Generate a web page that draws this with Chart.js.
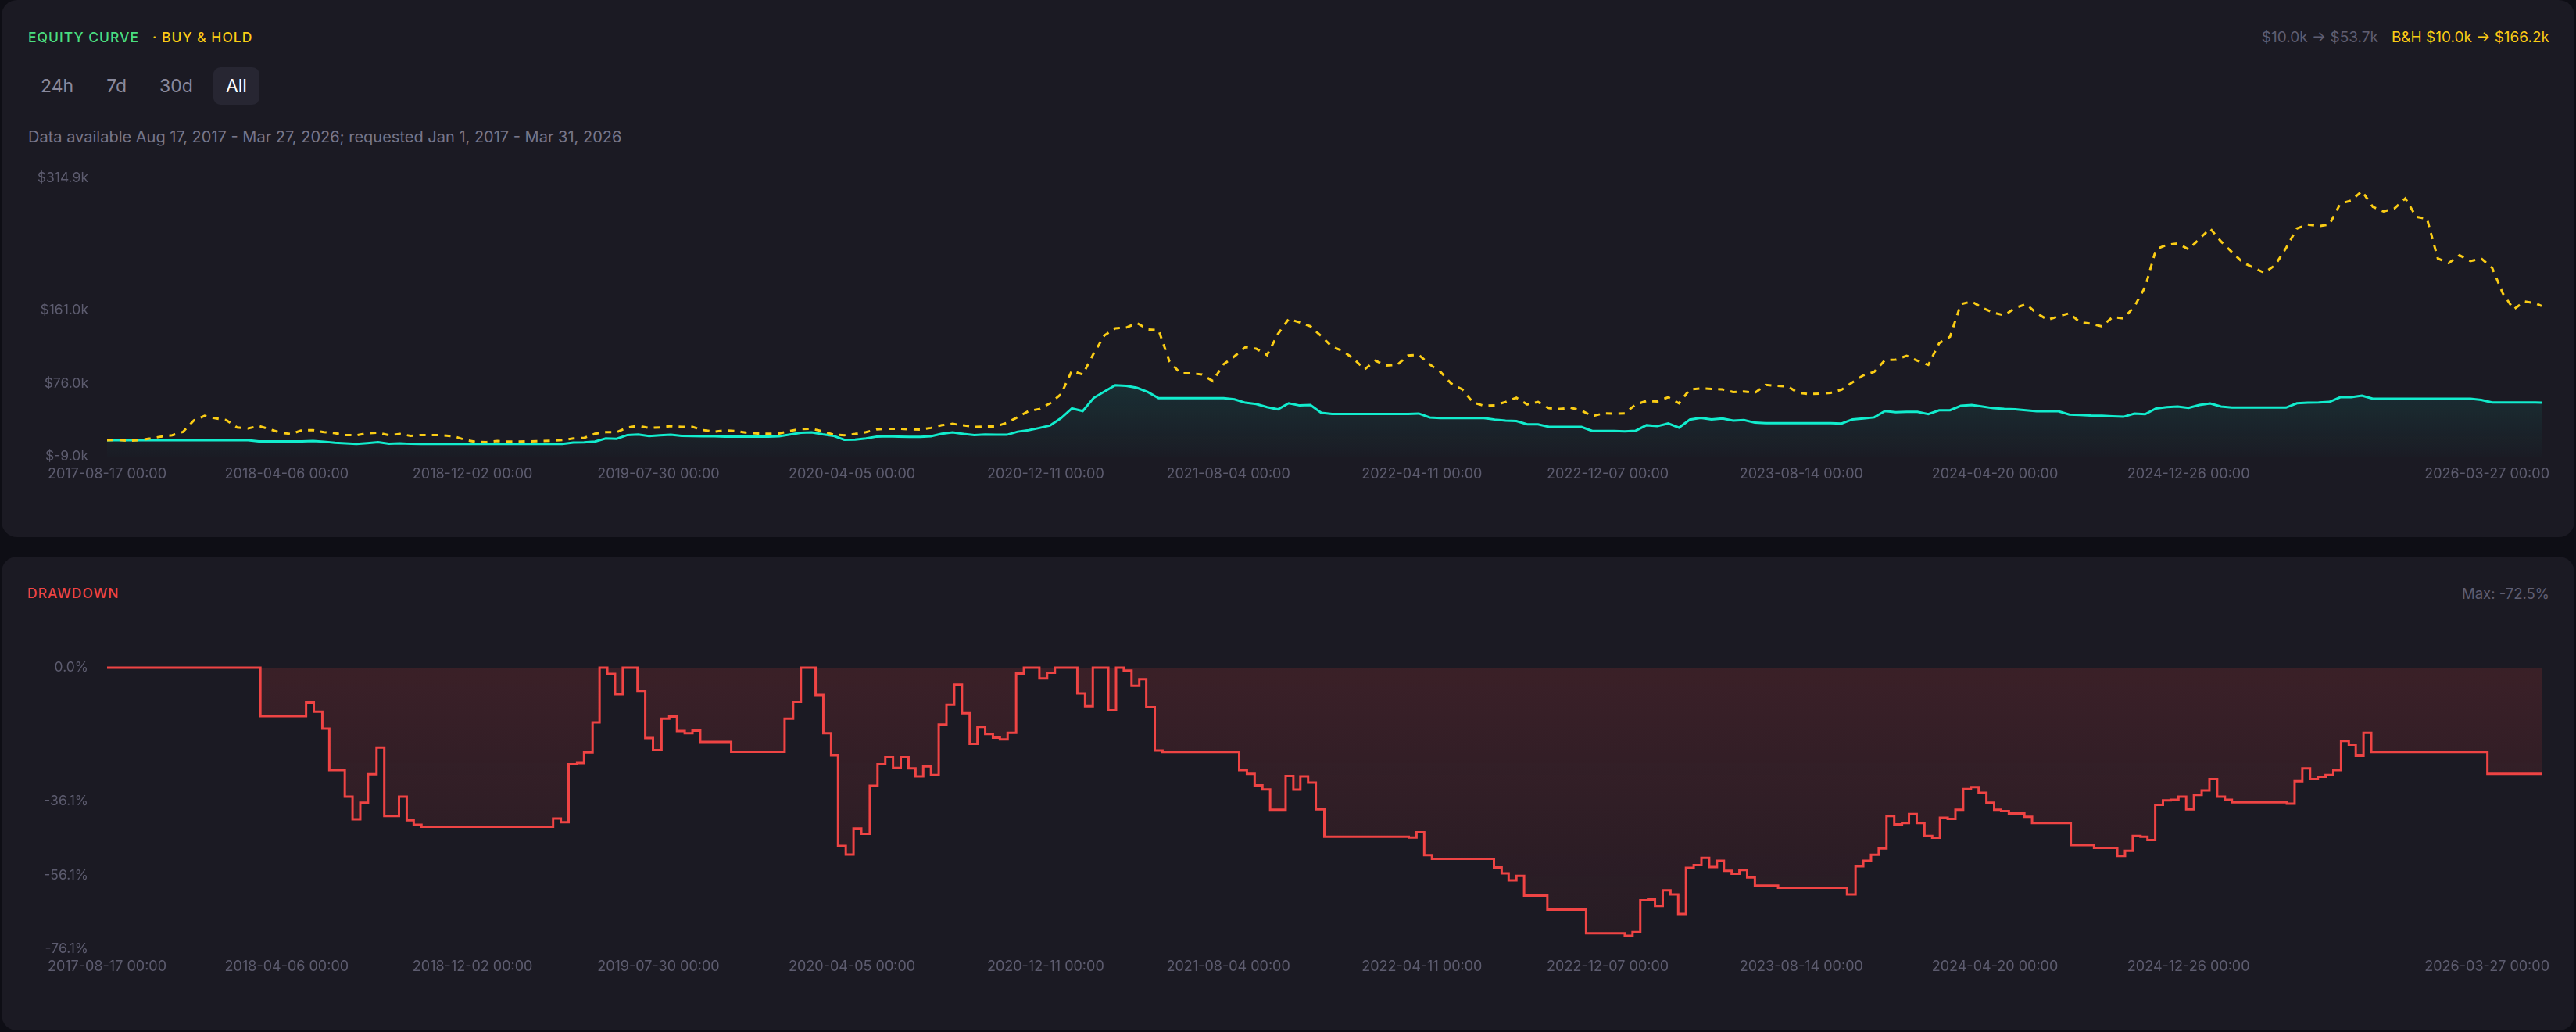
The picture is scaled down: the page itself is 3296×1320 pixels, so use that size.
<!DOCTYPE html>
<html>
<head>
<meta charset="utf-8">
<script src="https://cdn.jsdelivr.net/npm/chart.js@4.4.1/dist/chart.umd.min.js"></script>
<style>
html, body { margin: 0; padding: 0; width: 3296px; height: 1320px; overflow: hidden; background: #0e0e15; font-family: Inter, sans-serif; }
.card { position: absolute; left: 2px; width: 3292px; background: #1b1a23; border-radius: 20px; }
.lbl { position: absolute; white-space: nowrap; line-height: 24px; }
.caps { font-size: 17.5px; font-weight: 500; letter-spacing: 1px; }
.btns { position: absolute; left: 36px; top: 86px; display: flex; gap: 10px; }
.btns div { height: 48px; line-height: 48px; padding: 0 16px; font-size: 23px; color: #8a899c; border-radius: 9px; }
.btns div.on { background: #272632; color: #ffffff; }
.wrap { position: absolute; left: 0; width: 3296px; }
</style>
</head>
<body>
<div class="card" style="top:0;height:687px"></div>
<div class="card" style="top:712px;height:606px"></div>

<div class="lbl caps" style="left:36px;top:36px;color:#4ade80">EQUITY CURVE</div>
<div class="lbl caps" style="left:195px;top:36px;color:#facc15">· BUY &amp; HOLD</div>
<div class="lbl" style="right:34px;top:36px;font-size:19px">
  <span style="color:#5f5e72">$10.0k → $53.7k</span><span style="color:#facc15;margin-left:17px">B&amp;H $10.0k → $166.2k</span>
</div>
<div class="btns"><div>24h</div><div>7d</div><div>30d</div><div class="on">All</div></div>
<div class="lbl" style="left:36px;top:163px;font-size:20px;color:#77768a">Data available Aug 17, 2017 - Mar 27, 2026; requested Jan 1, 2017 - Mar 31, 2026</div>
<div class="wrap" style="top:200px;height:440px"><canvas id="equity"></canvas></div>

<div class="lbl caps" style="left:35px;top:747px;color:#ef4444">DRAWDOWN</div>
<div class="lbl" style="right:34px;top:747px;font-size:18.5px;color:#5f5e72">Max: -72.5%</div>
<div class="wrap" style="top:820px;height:460px"><canvas id="drawdown"></canvas></div>

<script>
const START = '2017-08-17';

// equity samples, values in $k
const eqDates = [
  '2017-08-17','2017-08-31','2017-09-14','2017-09-28','2017-10-12','2017-10-26','2017-11-09','2017-11-23','2017-12-07','2017-12-21',
  '2018-01-04','2018-01-18','2018-02-01','2018-02-15','2018-03-01','2018-03-15','2018-03-29','2018-04-12','2018-04-26','2018-05-10','2018-05-24','2018-06-07','2018-06-21','2018-07-05','2018-07-19','2018-08-02','2018-08-16','2018-08-30','2018-09-13','2018-09-27','2018-10-11','2018-10-25','2018-11-08','2018-11-22','2018-12-06','2018-12-20',
  '2019-01-03','2019-01-17','2019-01-31','2019-02-14','2019-02-28','2019-03-14','2019-03-28','2019-04-11','2019-04-25','2019-05-09','2019-05-23','2019-06-06','2019-06-20','2019-07-04','2019-07-18','2019-08-01','2019-08-15','2019-08-29','2019-09-12','2019-09-26','2019-10-10','2019-10-24','2019-11-07','2019-11-21','2019-12-05','2019-12-19',
  '2020-01-02','2020-01-16','2020-01-30','2020-02-13','2020-02-27','2020-03-12','2020-03-26','2020-04-09','2020-04-23','2020-05-07','2020-05-21','2020-06-04','2020-06-18','2020-07-02','2020-07-16','2020-07-30','2020-08-13','2020-08-27','2020-09-10','2020-09-24','2020-10-08','2020-10-22','2020-11-05','2020-11-19','2020-12-03','2020-12-17','2020-12-31',
  '2021-01-14','2021-01-28','2021-02-11','2021-02-25','2021-03-11','2021-03-25','2021-04-08','2021-04-22','2021-05-06','2021-05-20','2021-06-03','2021-06-17','2021-07-01','2021-07-15','2021-07-29','2021-08-12','2021-08-26','2021-09-09','2021-09-23','2021-10-07','2021-10-21','2021-11-04','2021-11-18','2021-12-02','2021-12-16','2021-12-30',
  '2022-01-13','2022-01-27','2022-02-10','2022-02-24','2022-03-10','2022-03-24','2022-04-07','2022-04-21','2022-05-05','2022-05-19','2022-06-02','2022-06-16','2022-06-30','2022-07-14','2022-07-28','2022-08-11','2022-08-25','2022-09-08','2022-09-22','2022-10-06','2022-10-20','2022-11-03','2022-11-17','2022-12-01','2022-12-15','2022-12-29',
  '2023-01-12','2023-01-26','2023-02-09','2023-02-23','2023-03-09','2023-03-23','2023-04-06','2023-04-20','2023-05-04','2023-05-18','2023-06-01','2023-06-15','2023-06-29','2023-07-13','2023-07-27','2023-08-10','2023-08-24','2023-09-07','2023-09-21','2023-10-05','2023-10-19','2023-11-02','2023-11-16','2023-11-30','2023-12-14','2023-12-28',
  '2024-01-11','2024-01-25','2024-02-08','2024-02-22','2024-03-07','2024-03-21','2024-04-04','2024-04-18','2024-05-02','2024-05-16','2024-05-30','2024-06-13','2024-06-27','2024-07-11','2024-07-25','2024-08-08','2024-08-22','2024-09-05','2024-09-19','2024-10-03','2024-10-17','2024-10-31','2024-11-14','2024-11-28','2024-12-12','2024-12-26',
  '2025-01-09','2025-01-23','2025-02-06','2025-02-20','2025-03-06','2025-03-20','2025-04-03','2025-04-17','2025-05-01','2025-05-15','2025-05-29','2025-06-12','2025-06-26','2025-07-10','2025-07-24','2025-08-07','2025-08-21','2025-09-04','2025-09-18','2025-10-02','2025-10-16','2025-10-30','2025-11-13','2025-11-27','2025-12-11','2025-12-25',
  '2026-01-08','2026-01-22','2026-02-05','2026-02-19','2026-03-05','2026-03-19','2026-03-27'
];
const buyHold = [
  10.0,10.6,9.4,10.2,12.1,14.3,15.8,19.7,33.0,38.5,
  35.5,33.4,24.9,23.7,26.7,22.8,18.8,17.3,21.8,21.8,19.4,18.2,16.1,15.8,18.2,18.8,15.8,17.3,15.2,16.1,16.1,15.8,14.6,10.6,8.2,7.9,
  9.1,8.5,8.5,8.8,9.1,9.4,10.3,12.1,12.7,17.6,19.4,19.4,24.9,26.7,24.3,24.9,26.4,25.5,25.5,21.8,20.0,21.5,20.6,18.8,17.9,17.6,
  17.9,20.9,23.0,23.4,20.3,16.7,15.8,17.3,19.4,22.7,23.4,23.4,22.7,22.4,24.3,27.6,29.1,27.3,25.5,26.1,26.1,30.3,37.0,44.0,46.4,53.1,63.7,
  91.0,86.5,110.8,132.0,140.2,141.1,146.3,139.0,138.1,101.7,88.0,88.0,86.5,78.9,98.6,107.7,118.4,116.5,109.2,133.5,151.1,147.2,142.6,131.1,118.9,113.8,
  104.7,92.5,102.6,97.1,97.7,108.6,109.3,98.3,89.5,75.9,69.2,54.0,50.1,50.7,54.6,59.5,51.6,54.6,47.3,46.4,47.9,44.6,37.9,41.3,41.0,41.3,
  51.6,55.8,55.2,60.1,53.1,69.2,70.4,69.8,69.2,66.1,66.8,65.2,74.4,73.4,72.8,65.2,63.7,64.3,65.2,68.9,77.4,85.6,89.5,103.2,103.8,108.3,
  102.6,97.7,122.9,130.5,168.4,171.5,163.9,158.4,155.4,163.9,168.4,157.8,150.2,154.2,157.8,147.2,145.7,142.6,153.3,151.7,165.4,188.2,232.2,237.3,239.1,232.2,
  244.3,256.4,241.3,229.1,217.0,210.9,204.8,214.0,233.7,256.4,261.0,259.2,261.0,285.3,288.9,300.0,281.6,276.2,279.8,291.4,270.1,267.7,221.5,216.1,225.2,218.5,
  221.5,210.9,180.6,162.4,171.5,169.4,166.2
];
const strategy = [
  10.0,10.0,10.0,10.0,10.0,10.0,10.0,10.0,10.0,10.0,
  10.0,10.0,10.0,10.0,8.7,8.7,8.7,8.7,8.7,9.1,8.4,7.2,6.5,5.9,6.8,7.8,6.0,6.5,5.9,5.7,5.7,5.7,5.7,5.7,5.7,5.7,
  5.7,5.7,5.7,5.7,5.7,5.7,5.8,7.4,7.7,8.5,12.1,11.8,16.1,16.7,14.9,15.8,16.4,15.2,14.9,14.6,14.6,14.3,14.3,14.3,14.3,14.3,
  14.6,16.7,18.8,19.1,17.0,15.2,10.6,10.9,12.1,14.3,14.6,14.3,14.0,14.0,14.6,17.6,19.1,17.3,16.1,16.7,16.4,16.4,20.0,21.8,24.3,27.3,35.8,
  47.0,44.0,59.2,66.8,74.0,73.4,71.0,66.1,58.9,58.9,58.9,58.9,58.9,58.9,58.9,57.6,53.7,52.2,48.5,46.0,53.1,50.5,51.0,42.0,40.5,40.5,
  40.5,40.5,40.5,40.5,40.5,40.5,41.1,36.5,35.8,35.8,35.8,35.8,35.8,34.1,32.9,32.4,28.5,28.5,25.6,25.6,25.6,25.6,20.9,20.9,20.9,20.4,
  21.1,27.5,26.4,29.5,24.7,34.0,36.0,34.2,35.4,32.8,33.6,30.5,30.0,30.0,30.0,30.0,30.0,30.0,30.0,29.5,34.3,35.4,36.6,44.0,42.7,43.0,
  43.0,40.4,44.9,44.9,50.1,51.0,49.2,47.3,46.4,46.1,44.9,43.7,43.7,43.7,40.0,39.5,38.8,38.5,37.9,37.3,41.0,40.4,47.0,48.5,49.2,47.6,
  51.0,52.8,49.2,48.0,48.0,48.0,48.0,48.0,48.0,53.1,53.7,54.0,54.6,60.1,60.1,62.0,58.3,58.3,58.3,58.3,58.3,58.3,58.3,58.3,58.3,58.3,
  57.0,54.0,54.0,54.0,54.0,54.0,53.7
];

// drawdown steps: day since START where a level begins, and the level in %
const ddDay = [
  0,198,257,267,278,287,307,317,327,337,348,358,377,387,396,406,576,586,596,607,616,627,636,646,656,666,685,695,705,716,726,736,746,756,766,806,875,886,896,915,925,935,944,954,964,
  974,985,995,1005,1015,1025,1035,1044,1054,1064,1074,1084,1094,1104,1114,1124,1134,1144,1153,1163,1174,1184,1204,1214,1224,1253,1263,1273,1293,1303,1313,1323,1333,1342,1353,1363,
  1462,1472,1482,1492,1502,1522,1532,1541,1551,1561,1572,1681,1691,1701,1711,1791,1801,1810,1820,1830,1860,1910,1960,1970,1980,1990,1999,2009,2019,2029,2039,2049,2059,2069,
  2079,2088,2098,2108,2118,2128,2158,2247,2258,2268,2278,2288,2298,2308,2318,2327,2337,2347,2357,2367,2377,2387,2397,2407,2417,2427,2437,2446,2456,2476,2486,2536,2566,2596,2606,
  2616,2626,2635,2645,2655,2665,2675,2685,2695,2705,2715,2725,2735,2744,2815,2825,2835,2845,2855,2865,2875,2885,2895,2904,2914,2924,3074,3144
];
const ddValue = [
  0,-13.1,-9.4,-11.9,-16.5,-27.7,-34.9,-41.0,-36.5,-28.8,-21.6,-40.1,-34.9,-41.3,-42.5,-43.0,-40.8,-41.8,-26.1,-25.8,-22.9,-14.8,0,-1.7,-7.2,0,-6.3,-19.0,-22.3,-13.8,-13.2,-17.1,-17.7,-17.0,-20.1,-22.7,-13.8,-9.2,0,-7.4,-17.7,-23.7,-48.2,-50.5,-43.5,
  -44.9,-31.9,-26.1,-24.2,-27.1,-24.2,-27.2,-29.4,-26.7,-29.0,-15.4,-10.0,-4.6,-12.3,-20.6,-16.0,-17.9,-18.9,-19.4,-17.6,-1.6,0,-2.9,-1.4,0,-7.0,-10.4,0,-11.5,0,-0.8,-4.9,-3.1,-10.7,-22.4,-22.8,
  -27.7,-28.7,-31.8,-32.9,-38.4,-29.3,-33.0,-29.4,-31.1,-38.3,-45.7,-45.9,-44.5,-50.7,-51.7,-54.0,-55.6,-57.5,-56.3,-61.6,-65.4,-71.8,-72.5,-71.5,-62.9,-62.7,-64.4,-60.2,-61.3,-66.6,-54.1,-53.4,-51.4,-53.9,
  -52.2,-54.9,-55.7,-54.7,-56.7,-58.9,-59.5,-61.3,-53.7,-52.2,-50.6,-48.9,-40.1,-42.4,-42.0,-39.6,-42.0,-45.5,-46.0,-40.6,-40.9,-38.4,-32.8,-32.3,-33.8,-36.5,-38.4,-38.8,-39.4,-40.3,-42.0,-48.0,-48.7,-50.9,-49.5,
  -45.5,-45.7,-46.6,-37.1,-35.9,-35.7,-34.9,-38.3,-34.4,-33.2,-30.1,-34.9,-35.7,-36.4,-36.8,-30.7,-27.2,-30.1,-29.5,-29.0,-27.7,-19.8,-20.8,-23.8,-17.6,-22.8,-28.7,-28.7
];

const xTickDates = ['2017-08-17','2018-04-06','2018-12-02','2019-07-30','2020-04-05','2020-12-11','2021-08-04','2022-04-11','2022-12-07','2023-08-14','2024-04-20','2024-12-26','2026-03-27'];
const eqTicks = [-9.0, 76.0, 161.0, 314.9];
const ddTicks = [0, -36.1, -56.1, -76.1];

const TICK_COLOR = '#5d5c6f';
const CYAN = '#12eccd';
const GOLD = '#facc15';
const RED = '#ef4444';

function toDay(s) {
  return Math.round((Date.parse(s + 'T00:00:00Z') - Date.parse(START + 'T00:00:00Z')) / 86400000);
}
const lastDay = toDay(eqDates[eqDates.length - 1]);

// x labels drawn by hand so the last one can be pulled inside the canvas
const xLabels = {
  id: 'xLabels',
  afterDraw(chart) {
    const xs = chart.scales.x, area = chart.chartArea, ctx = chart.ctx;
    ctx.save();
    ctx.font = '18px Inter';
    ctx.fillStyle = TICK_COLOR;
    ctx.textBaseline = 'middle';
    ctx.textAlign = 'left';
    xTickDates.forEach(function (d) {
      const label = d + ' 00:00';
      const w = ctx.measureText(label).width;
      let left = xs.getPixelForValue(toDay(d)) - w / 2;
      left = Math.min(left, chart.width - 34 - w);
      ctx.fillText(label, left, area.bottom + 23);
    });
    ctx.restore();
  }
};

function yAxis(min, max, ticks, fmt) {
  return {
    min: min, max: max,
    grid: { display: false }, border: { display: false },
    afterFit: function (scale) { scale.width = 137; },
    afterBuildTicks: function (scale) { scale.ticks = ticks.map(function (v) { return { value: v }; }); },
    ticks: { color: TICK_COLOR, padding: 16, font: { family: 'Inter', size: 17.5 }, callback: fmt }
  };
}

const xAxis = { type: 'linear', display: false, min: 0, max: lastDay };

new Chart(document.getElementById('equity'), {
  type: 'line',
  data: {
    datasets: [
      {
        label: 'Buy & Hold',
        data: eqDates.map(function (d, i) { return { x: toDay(d), y: buyHold[i] }; }),
        borderColor: GOLD, borderWidth: 3, borderDash: [8, 8],
        pointRadius: 0, tension: 0, fill: false, order: 0
      },
      {
        label: 'Equity',
        data: eqDates.map(function (d, i) { return { x: toDay(d), y: strategy[i] }; }),
        borderColor: CYAN, borderWidth: 3,
        pointRadius: 0, tension: 0, fill: 'start', order: 1,
        backgroundColor: function (c) {
          const a = c.chart.chartArea;
          if (!a) return 'rgba(18,236,205,0.05)';
          const top = c.chart.scales.y.getPixelForValue(Math.max.apply(null, strategy));
          const g = c.chart.ctx.createLinearGradient(0, top, 0, a.bottom);
          g.addColorStop(0, 'rgba(18,236,205,0.10)');
          g.addColorStop(1, 'rgba(18,236,205,0.01)');
          return g;
        }
      }
    ]
  },
  options: {
    responsive: true, maintainAspectRatio: false, animation: false,
    layout: { padding: { left: 0, right: 44, top: 28, bottom: 56 } },
    plugins: { legend: { display: false }, tooltip: { enabled: false } },
    scales: {
      x: xAxis,
      y: yAxis(-9.0, 314.9, eqTicks, function (v) { return '$' + v.toFixed(1) + 'k'; })
    }
  },
  plugins: [xLabels]
});

new Chart(document.getElementById('drawdown'), {
  type: 'line',
  data: {
    datasets: [{
      label: 'Drawdown',
      data: ddDay.map(function (d, i) { return { x: d, y: ddValue[i] }; }),
      borderColor: RED, borderWidth: 3, stepped: true,
      pointRadius: 0, fill: 'origin', clip: 6,
      backgroundColor: function (c) {
        const a = c.chart.chartArea;
        if (!a) return 'rgba(239,68,68,0.1)';
        const g = c.chart.ctx.createLinearGradient(0, a.top, 0, a.bottom);
        g.addColorStop(0, 'rgba(239,68,68,0.15)');
        g.addColorStop(1, 'rgba(239,68,68,0.05)');
        return g;
      }
    }]
  },
  options: {
    responsive: true, maintainAspectRatio: false, animation: false,
    layout: { padding: { left: 0, right: 44, top: 34, bottom: 66 } },
    plugins: { legend: { display: false }, tooltip: { enabled: false } },
    scales: {
      x: xAxis,
      y: yAxis(-76.1, 0, ddTicks, function (v) { return v.toFixed(1) + '%'; })
    }
  },
  plugins: [xLabels]
});
</script>
</body>
</html>
